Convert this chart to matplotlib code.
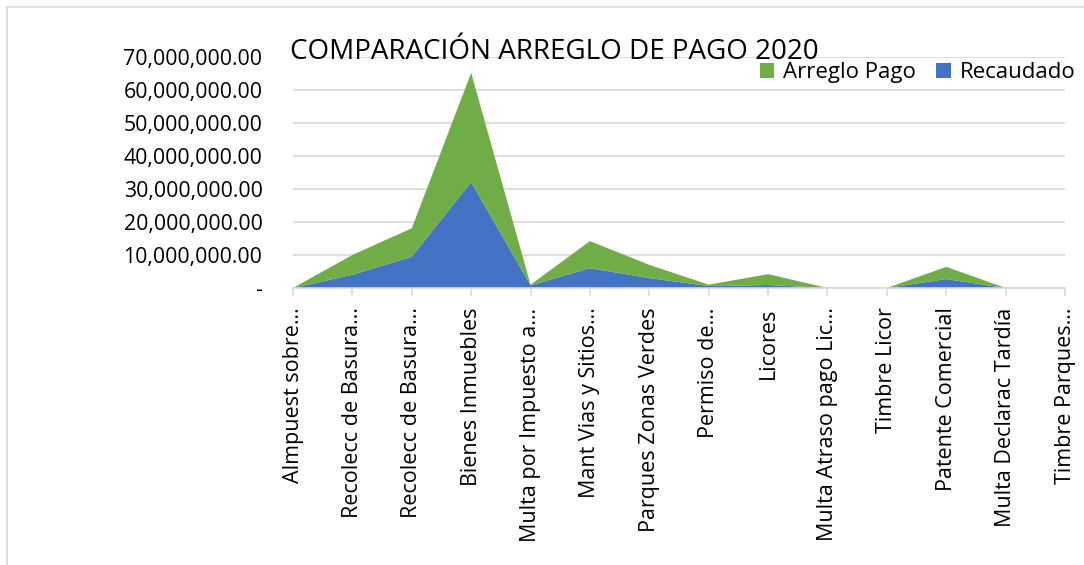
import matplotlib
matplotlib.use("Agg")
import matplotlib.pyplot as plt
from matplotlib.lines import Line2D
from matplotlib.ticker import FuncFormatter

categories = ["Almpuest sobre…", "Recolecc de Basura…", "Recolecc de Basura…",
              "Bienes Inmuebles", "Multa por Impuesto a…", "Mant Vias y Sitios…",
              "Parques Zonas Verdes", "Permiso de…", "Licores",
              "Multa Atraso pago Lic…", "Timbre Licor", "Patente Comercial",
              "Multa Declarac Tardía", "Timbre Parques…"]
recaudado = [0, 4.0e6, 9.5e6, 32.1e6, 0.8e6, 6.0e6, 3.0e6, 0.6e6, 0.9e6, 0, 0, 2.7e6, 0, 0]
arreglo_pago = [0, 6.0e6, 8.6e6, 33.1e6, 0.2e6, 8.2e6, 4.0e6, 0.4e6, 3.3e6, 0, 0, 3.7e6, 0, 0]

green = "#70AD47"
blue = "#4472C4"
grid = "#D9D9D9"

plt.rcParams['font.family'] = ['Open Sans', 'DejaVu Sans']

fig = plt.figure(figsize=(10.84, 5.65), dpi=100)
ax = fig.add_axes([0.2703, 0.4903, 0.7122, 0.4088])

x = list(range(len(categories)))
ax.stackplot(x, recaudado, arreglo_pago, colors=[blue, green],
             labels=["Recaudado", "Arreglo Pago"], zorder=3)

ax.set_xlim(0, len(categories) - 1)
ax.set_ylim(0, 70e6)
ax.set_yticks([i * 10e6 for i in range(8)])
ax.yaxis.set_major_formatter(FuncFormatter(lambda v, p: "-" if v == 0 else f"{v:,.2f}"))
ax.grid(axis='y', color=grid, linewidth=1.2, zorder=0)
ax.set_axisbelow(True)

ax.set_xticks(x)
ax.set_xticklabels(categories, rotation=90, ha='center', va='top', fontsize=15.5)
ax.tick_params(axis='x', length=6, width=1.2, color=grid, pad=8)
ax.tick_params(axis='y', length=0, labelsize=15.3, pad=22)

for s in ['top', 'right', 'left']:
    ax.spines[s].set_visible(False)
ax.spines['bottom'].set_color(grid)
ax.spines['bottom'].set_linewidth(1.2)
ax.spines['bottom'].set_zorder(4)

fig.text(0.2675, 0.8956, "COMPARACIÓN ARREGLO DE PAGO 2020", fontsize=20,
         ha='left', va='baseline')

handles, labels = ax.get_legend_handles_labels()
ax.legend(handles[::-1], labels[::-1], loc='upper right', bbox_to_anchor=(0.992, 0.89),
          bbox_transform=fig.transFigure, frameon=False, fontsize=16,
          handlelength=0.65, handleheight=0.65, handletextpad=0.4, columnspacing=0.9,
          ncol=2, borderaxespad=0, borderpad=0)

fig.add_artist(Line2D([7 / 1084, 7 / 1084], [0, 1 - 7 / 565], color=grid, linewidth=1.2))
fig.add_artist(Line2D([7 / 1084, 1], [1 - 7 / 565, 1 - 7 / 565], color=grid, linewidth=1.2))

fig.savefig("out.png", dpi=100)
